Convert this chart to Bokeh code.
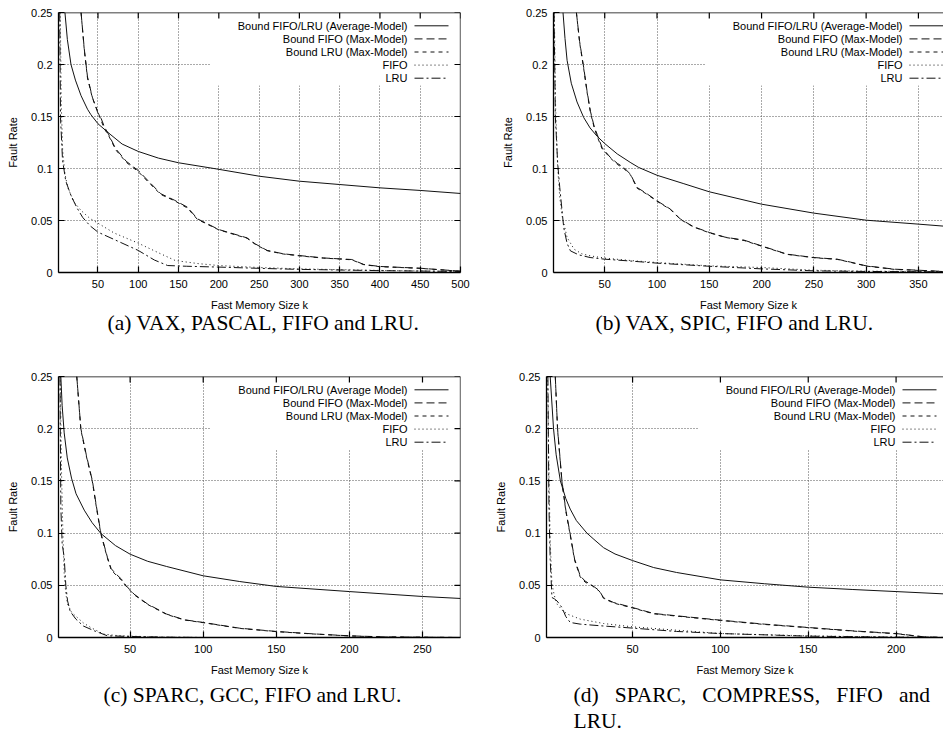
from bokeh.plotting import figure
from bokeh.models import (Range1d, FixedTicker, NumeralTickFormatter,
                          BoxAnnotation, Label, Span, Title)
from bokeh.layouts import column, row
from bokeh.embed import file_html
from bokeh.resources import INLINE

# ---------------- data ----------------
y_ticks = [0, 0.05, 0.1, 0.15, 0.2, 0.25]
x_ticks_a = [50, 100, 150, 200, 250, 300, 350, 400, 450, 500]
x_ticks_b = [50, 100, 150, 200, 250, 300, 350]
x_ticks_c = [50, 100, 150, 200, 250]
x_ticks_d = [50, 100, 150, 200]

legend_labels = ["Bound FIFO/LRU (Average-Model)", "Bound FIFO (Max-Model)",
                 "Bound LRU (Max-Model)", "FIFO", "LRU"]
legend_labels_c = ["Bound FIFO/LRU (Average Model)", "Bound FIFO (Max-Model)",
                   "Bound LRU (Max-Model)", "FIFO", "LRU"]
G = "\u00a0\u00a0\u00a0"   # widened (justified) word gap
captions = ["(a) VAX, PASCAL, FIFO and LRU.",
            "(b) VAX, SPIC, FIFO and LRU.",
            "(c) SPARC, GCC, FIFO and LRU.",
            "(d)" + G + "SPARC," + G + "COMPRESS," + G + "FIFO" + G + "and",
            "LRU."]

# panel (a) VAX, PASCAL
a_avg_x = [9, 12, 16.5, 22, 29, 37, 41, 50, 65, 80, 100, 125, 150, 194, 250, 300, 350, 400, 450, 500]
a_avg_y = [0.25, 0.224, 0.2, 0.185, 0.17, 0.157, 0.152, 0.143, 0.133, 0.1235, 0.1164, 0.110, 0.1055,
           0.1, 0.0926, 0.0878, 0.0846, 0.0814, 0.0789, 0.076]
a_max_x = [29, 33, 37, 43, 49.6, 54, 58, 63, 72, 85, 100, 115, 128, 145, 161, 173.5, 200, 225, 235,
           245, 260, 280, 300, 330, 350, 365, 380, 400, 450, 500]
a_maxfifo_y = [0.25, 0.215, 0.188, 0.1686, 0.154, 0.148, 0.14, 0.133, 0.119, 0.107, 0.098, 0.086,
               0.0757, 0.0695, 0.0628, 0.0516, 0.0413, 0.0356, 0.0333, 0.0276, 0.0212, 0.018, 0.0163,
               0.014, 0.0131, 0.0125, 0.0077, 0.0058, 0.0041, 0.0013]
a_maxlru_y = [0.25, 0.214, 0.187, 0.168, 0.155, 0.146, 0.138, 0.132, 0.118, 0.106, 0.097, 0.085,
              0.075, 0.069, 0.062, 0.051, 0.041, 0.0352, 0.033, 0.0272, 0.021, 0.0178, 0.016,
              0.0138, 0.013, 0.0122, 0.0075, 0.0056, 0.004, 0.0012]
a_fifo_x = [3.2, 4.5, 6.2, 9, 12.4, 20, 29, 40, 50, 70, 100, 125, 146, 175, 200, 250, 300, 400, 500]
a_fifo_y = [0.25, 0.16, 0.117, 0.095, 0.082, 0.068, 0.0596, 0.052, 0.0474, 0.038, 0.0282, 0.019,
            0.0115, 0.0085, 0.0067, 0.0048, 0.0035, 0.002, 0.001]
a_lru_x = [2.5, 3.5, 6, 10, 16.5, 24, 31, 40, 50, 75, 100, 120, 136.5, 160, 200, 250, 300, 400, 500]
a_lru_y = [0.25, 0.149, 0.108, 0.088, 0.074, 0.062, 0.053, 0.045, 0.0388, 0.03, 0.0212, 0.012,
           0.0067, 0.006, 0.0052, 0.004, 0.003, 0.0018, 0.001]

# panel (b) VAX, SPIC
b_avg_x = [10.1, 12, 14, 18, 23.5, 29.9, 36, 42.7, 50, 62, 75, 82.5, 100, 125, 150, 200, 250, 300, 350, 374]
b_avg_y = [0.25, 0.225, 0.204, 0.182, 0.164, 0.149, 0.139, 0.131, 0.124, 0.114, 0.1055, 0.101,
           0.0935, 0.0856, 0.0776, 0.0657, 0.0571, 0.0503, 0.0465, 0.0446]
b_max_x = [22.9, 26, 29.9, 33, 36.3, 40, 42.7, 47.5, 55.4, 62, 68.2, 74.6, 81, 90, 100, 112.9, 122.4,
           135, 150, 165, 183.2, 200, 224.5, 250, 272.4, 285, 300, 327, 350, 374]
b_maxfifo_y = [0.25, 0.222, 0.197, 0.175, 0.155, 0.14, 0.133, 0.12, 0.1106, 0.105, 0.101, 0.0945,
               0.0817, 0.076, 0.0689, 0.0609, 0.0513, 0.044, 0.0385, 0.034, 0.0311, 0.0256, 0.0176,
               0.0144, 0.0128, 0.01, 0.0064, 0.0032, 0.0022, 0.001]
b_maxlru_y = [0.25, 0.221, 0.196, 0.174, 0.154, 0.139, 0.131, 0.119, 0.11, 0.104, 0.1, 0.094,
              0.081, 0.0755, 0.0685, 0.0605, 0.051, 0.0437, 0.0382, 0.0338, 0.0308, 0.0253, 0.0174,
              0.0142, 0.0126, 0.0098, 0.0062, 0.003, 0.002, 0.0009]
b_fifo_x = [1.8, 3, 5, 7, 9.5, 14, 20.7, 28, 36.3, 50, 75, 100, 150, 200, 250, 300, 374]
b_fifo_y = [0.25, 0.16, 0.101, 0.072, 0.053, 0.0337, 0.0224, 0.018, 0.016, 0.0138, 0.0115, 0.0096,
            0.0064, 0.0048, 0.0022, 0.0013, 0.0008]
b_lru_x = [1.5, 2.8, 5, 7, 10.8, 14, 17.2, 25, 36, 50, 75, 100, 150, 200, 250, 300, 374]
b_lru_y = [0.25, 0.149, 0.105, 0.0817, 0.043, 0.028, 0.0208, 0.017, 0.0144, 0.0128, 0.011, 0.009,
           0.006, 0.0035, 0.0016, 0.001, 0.0006]

# panel (c) SPARC, GCC
c_avg_x = [2.6, 3.5, 4.9, 7, 9.9, 13, 18.6, 24, 30, 40, 50, 62, 75, 100, 125, 150, 200, 250, 276]
c_avg_y = [0.25, 0.222, 0.196, 0.172, 0.1527, 0.1377, 0.122, 0.110, 0.0996, 0.088, 0.0798, 0.073,
           0.068, 0.0591, 0.0536, 0.0489, 0.044, 0.0393, 0.0374]
c_max_x = [13.5, 16.3, 20, 24.2, 27, 30, 34.5, 37, 40.2, 44, 47, 52.7, 62, 75, 87, 100, 125, 150,
           175, 200, 224, 276]
c_maxfifo_y = [0.25, 0.2, 0.175, 0.15, 0.125, 0.1, 0.0766, 0.066, 0.061, 0.056, 0.05, 0.0415, 0.032,
               0.0224, 0.017, 0.0144, 0.0089, 0.0058, 0.0035, 0.0016, 0.0006, 0.0]
c_maxlru_y = [0.25, 0.199, 0.174, 0.149, 0.124, 0.099, 0.0758, 0.065, 0.06, 0.055, 0.0495, 0.041,
              0.0316, 0.0221, 0.0168, 0.0142, 0.0087, 0.0056, 0.0034, 0.0015, 0.0005, 0.0]
c_fifo_x = [2.2, 3.1, 4, 4.9, 6, 7.2, 10, 14, 18, 23, 28, 32, 40, 50, 75, 100, 276]
c_fifo_y = [0.25, 0.156, 0.1, 0.0607, 0.042, 0.032, 0.024, 0.019, 0.014, 0.0096, 0.006, 0.0032,
            0.002, 0.0013, 0.0003, 0.0, 0.0]
c_lru_x = [2.0, 2.6, 3.5, 4.9, 6, 7.2, 9, 12.9, 18, 25.5, 30, 34.5, 50, 75, 100, 276]
c_lru_y = [0.25, 0.1245, 0.09, 0.0766, 0.05, 0.0351, 0.025, 0.0176, 0.011, 0.0064, 0.004, 0.0016,
           0.001, 0.0003, 0.0, 0.0]

# panel (d) SPARC, COMPRESS
d_avg_x = [3.1, 5.0, 6.5, 8.9, 12, 14.5, 18, 24, 28, 33.5, 40, 50, 62, 75, 100, 125, 150, 175, 200, 227]
d_avg_y = [0.25, 0.2, 0.175, 0.15, 0.133, 0.123, 0.112, 0.1, 0.094, 0.086, 0.080, 0.0737, 0.067,
           0.0623, 0.0552, 0.0515, 0.0482, 0.046, 0.044, 0.0418]
d_max_x = [6, 7.3, 9.8, 12, 14.4, 17, 20.2, 23, 27, 31, 33.5, 39.2, 50, 62, 75, 100, 125, 150, 175,
           200, 216, 227]
d_maxfifo_y = [0.25, 0.2, 0.15, 0.122, 0.1, 0.075, 0.059, 0.054, 0.05, 0.045, 0.038, 0.0335, 0.0287,
               0.023, 0.0208, 0.0166, 0.0128, 0.0096, 0.0064, 0.0038, 0.0006, 0.0]
d_maxlru_y = [0.25, 0.199, 0.149, 0.121, 0.099, 0.074, 0.058, 0.053, 0.0495, 0.0445, 0.0375, 0.033,
              0.0283, 0.0227, 0.0205, 0.0163, 0.0125, 0.0094, 0.0062, 0.0036, 0.0005, 0.0]
d_fifo_x = [1.6, 2.4, 3.1, 4.1, 5.5, 7, 10, 12.9, 20.2, 33.5, 50, 75, 100, 150, 200, 227]
d_fifo_y = [0.25, 0.156, 0.0926, 0.051, 0.04, 0.032, 0.026, 0.0224, 0.0176, 0.0134, 0.0102, 0.007,
            0.0038, 0.0016, 0.0003, 0.0]
d_lru_x = [1.8, 2.4, 3.1, 4.1, 5.5, 7, 9.8, 12, 14.5, 20.2, 33.5, 50, 75, 100, 150, 200, 227]
d_lru_y = [0.25, 0.1245, 0.075, 0.0383, 0.037, 0.035, 0.0287, 0.02, 0.0144, 0.0128, 0.011, 0.009,
           0.0058, 0.0038, 0.0013, 0.0003, 0.0]

# ---------------- styling ----------------
SANS = "Liberation Sans"
SERIF = "Liberation Serif"
DASHES = ["solid", "8 4", "4 4", "1 3", "9 3 2 3"]
INK = "#111111"
TICK = 6


def style_axis(ax):
    ax.major_tick_in = TICK
    ax.major_tick_out = 0
    ax.minor_tick_line_color = None
    ax.axis_line_width = 1.3
    ax.major_tick_line_width = 1.2
    ax.axis_line_color = "black"
    ax.major_tick_line_color = "black"
    ax.major_label_text_font = SANS
    ax.major_label_text_font_size = "11px"
    ax.major_label_text_color = "black"
    ax.axis_label_text_font = SANS
    ax.axis_label_text_font_size = "11px"
    ax.axis_label_text_font_style = "normal"
    ax.axis_label_text_color = "black"


def panel(x_start, x_end, x_ticks, series, labels, caps, frame_w, frame_h,
          b_left, b_top, b_right, b_bottom, right_side):
    p = figure(frame_width=frame_w, frame_height=frame_h,
               x_range=Range1d(x_start, x_end), y_range=Range1d(0, 0.25),
               output_backend="svg", toolbar_location=None,
               min_border_left=b_left, min_border_top=b_top,
               min_border_right=b_right, min_border_bottom=b_bottom,
               background_fill_color="white", border_fill_color="white")
    p.outline_line_color = None
    p.xaxis.ticker = FixedTicker(ticks=x_ticks)
    p.yaxis.ticker = FixedTicker(ticks=y_ticks)
    p.yaxis.formatter = NumeralTickFormatter(format="0.[00]")
    p.xaxis.axis_label = "Fast Memory Size k"
    p.yaxis.axis_label = "Fault Rate"
    style_axis(p.xaxis[0])
    style_axis(p.yaxis[0])
    p.xaxis.major_label_standoff = 7
    p.xaxis.axis_label_standoff = 8
    p.yaxis.major_label_standoff = 6
    p.yaxis.axis_label_standoff = 9

    p.grid.grid_line_color = "#555555"
    p.grid.grid_line_dash = "1 2"
    p.grid.grid_line_width = 1

    sx = (x_end - x_start) / frame_w
    sy = 0.25 / frame_h

    # frame border (top, and right where the reference shows it) + mirrored ticks
    p.add_layout(Span(location=0.25, dimension="width", line_color="black", line_width=1.3))
    p.segment(x0=x_ticks, y0=[0.25] * len(x_ticks), x1=x_ticks,
              y1=[0.25 - TICK * sy] * len(x_ticks), line_color="black", line_width=1.2)
    if right_side:
        p.add_layout(Span(location=x_end, dimension="height", line_color="black", line_width=1.3))
        p.segment(x0=[x_end] * len(y_ticks), y0=y_ticks, x1=[x_end - TICK * sx] * len(y_ticks),
                  y1=y_ticks, line_color="black", line_width=1.2)

    # legend (gnuplot style: text then sample) on an opaque white patch
    box = BoxAnnotation(left=x_start + 152 * sx, right=x_end, bottom=0.25 - 73 * sy, top=0.25,
                        fill_color="white", fill_alpha=1.0, line_color=None, level="underlay")
    p.add_layout(box)

    for i, (xs, ys) in enumerate(series):
        p.line(xs, ys, line_color=INK, line_width=1, line_dash=DASHES[i])
        yy = 0.25 - (13.3 + 13.1 * i) * sy
        p.add_layout(Label(x=x_start + 349 * sx, y=yy, text=labels[i], text_align="right",
                           text_baseline="middle", text_font=SANS, text_font_size="11px",
                           text_color="black"))
        p.segment(x0=[x_start + 356 * sx], y0=[yy], x1=[x_start + 390 * sx], y1=[yy],
                  line_color=INK, line_width=1, line_dash=DASHES[i])

    # sub-figure captions below the axis
    for text, dx, stand in caps:
        p.add_layout(Title(text=text, align="left", offset=dx, standoff=stand,
                           text_font=SERIF, text_font_size="21.5px", text_font_style="normal",
                           text_color="black"), "below")
    return p


pa = panel(1, 500, x_ticks_a,
           [(a_avg_x, a_avg_y), (a_max_x, a_maxfifo_y), (a_max_x, a_maxlru_y),
            (a_fifo_x, a_fifo_y), (a_lru_x, a_lru_y)],
           legend_labels, [(captions[0], 49, -10)], 402, 260, 58, 12, 10, 73, True)
pb = panel(1, 374, x_ticks_b,
           [(b_avg_x, b_avg_y), (b_max_x, b_maxfifo_y), (b_max_x, b_maxlru_y),
            (b_fifo_x, b_fifo_y), (b_lru_x, b_lru_y)],
           legend_labels, [(captions[1], 42, -10)], 390, 260, 83, 12, 0, 73, False)
pc = panel(1, 276, x_ticks_c,
           [(c_avg_x, c_avg_y), (c_max_x, c_maxfifo_y), (c_max_x, c_maxlru_y),
            (c_fifo_x, c_fifo_y), (c_lru_x, c_lru_y)],
           legend_labels_c, [(captions[2], 45, 4)], 402, 261, 58, 31, 10, 100, True)
pd_ = panel(1, 227, x_ticks_d,
            [(d_avg_x, d_avg_y), (d_max_x, d_maxfifo_y), (d_max_x, d_maxlru_y),
             (d_fifo_x, d_fifo_y), (d_lru_x, d_lru_y)],
            legend_labels, [(captions[3], 27, 4), (captions[4], 27, -3)],
            397, 261, 76, 31, 0, 100, False)

layout = column(row(pa, pb), row(pc, pd_))
open("out.html", "w").write(file_html(layout, INLINE, "Fault rate bounds"))
